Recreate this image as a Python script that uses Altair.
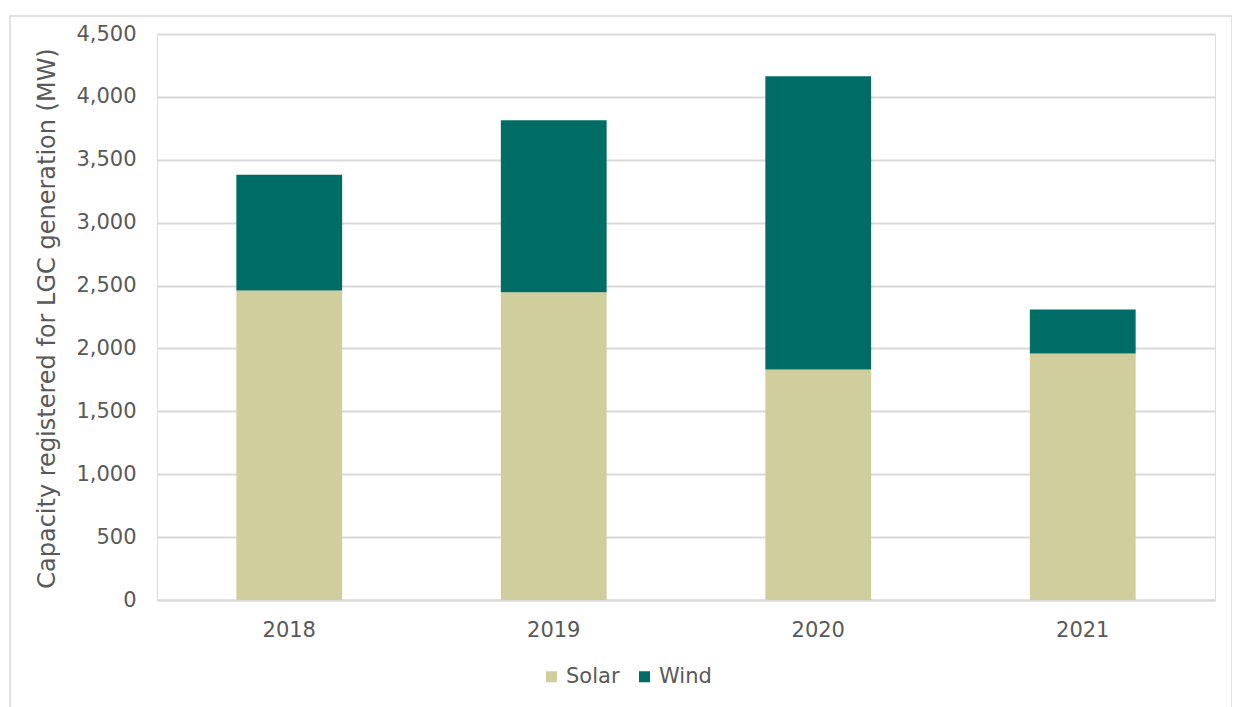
import altair as alt
import pandas as pd

years = ["2018", "2019", "2020", "2021"]
solar = [2460, 2447, 1832, 1960]
wind = [920, 1368, 2333, 350]
series = ["Solar", "Wind"]
colors = ["#D1CE9D", "#006C66"]
y_ticks = list(range(0, 4501, 500))

rows = []
for i, yr in enumerate(years):
    rows.append({"Year": yr, "Type": "Solar", "MW": solar[i], "ord": 0})
    rows.append({"Year": yr, "Type": "Wind", "MW": wind[i], "ord": 1})
df = pd.DataFrame(rows)

FONT = "DejaVu Sans"
TXT = "#595959"

frame = alt.Chart(pd.DataFrame({"a": [0]})).mark_rect(
    fill=None, stroke="#D9D9D9", strokeWidth=1.5, clip=False
).encode(
    x=alt.value(-147), x2=alt.value(1075), y=alt.value(-18), y2=alt.value(700)
)

bars = alt.Chart(df).mark_bar().encode(
    x=alt.X("Year:N", sort=years,
            scale=alt.Scale(paddingInner=0.6, paddingOuter=0.3),
            axis=alt.Axis(title=None, labelAngle=0, labelPadding=19, ticks=False,
                          domain=True, domainColor="#D9D9D9", domainWidth=2,
                          labelFontSize=21, labelColor=TXT, labelFont=FONT)),
    y=alt.Y("MW:Q", stack="zero",
            scale=alt.Scale(domain=[0, 4500], nice=False),
            axis=alt.Axis(values=y_ticks, format=",.0f", title="Capacity registered for LGC generation (MW)",
                          domain=False, ticks=False, labelPadding=21,
                          labelFontSize=21, labelColor=TXT, labelFont=FONT,
                          gridColor="#D9D9D9", gridWidth=2,
                          titleFontSize=24, titleFontWeight="normal", titleColor=TXT, titleFont=FONT,
                          titleX=-110, titleY=284, titleAngle=-90, titleAlign="center",
                          titleBaseline="middle")),
    color=alt.Color("Type:N", scale=alt.Scale(domain=series, range=colors),
                    legend=alt.Legend(title=None, orient="none", legendX=384, legendY=632,
                                      direction="horizontal", symbolType="square",
                                      symbolSize=121, symbolStrokeWidth=0,
                                      labelFontSize=21, labelColor=TXT, labelFont=FONT,
                                      columnPadding=14, labelOffset=4)),
    order=alt.Order("ord:Q"),
)

chart = alt.layer(frame, bars).properties(
    width=1058, height=566,
    autosize=alt.AutoSizeParams(type="none"),
    padding={"left": 149, "top": 26, "right": 17, "bottom": 107},
).configure_view(stroke=None).configure(background="white")

chart.save("out.html", embed_options={"renderer": "svg", "actions": False})
